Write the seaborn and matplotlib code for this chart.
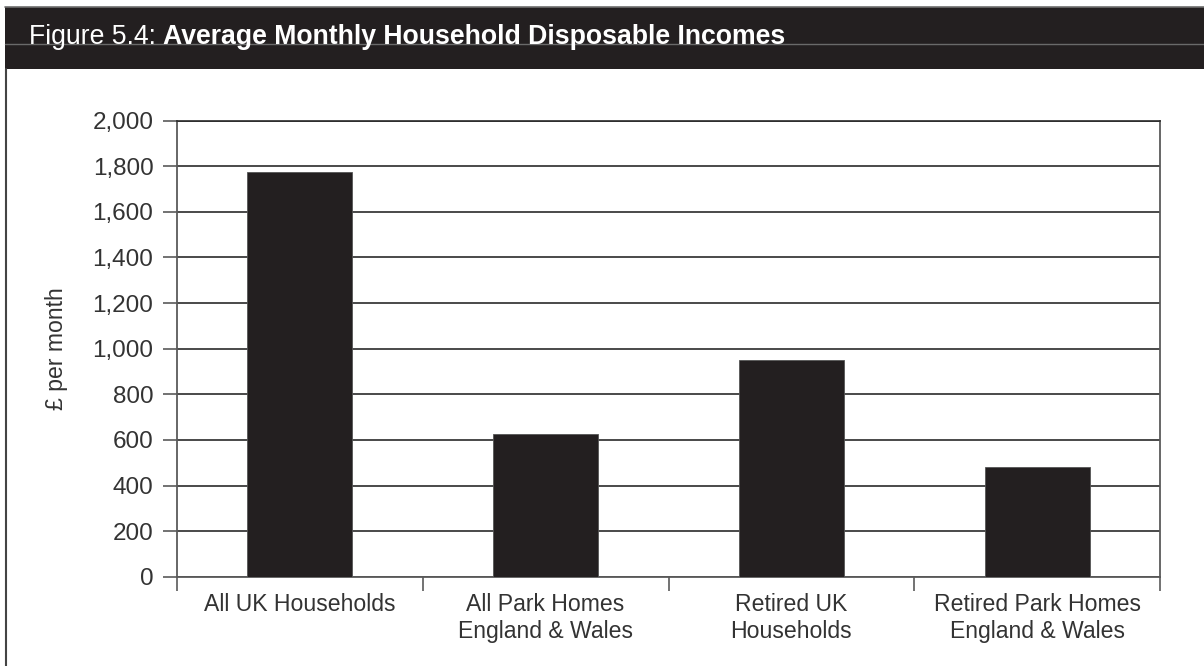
import matplotlib
matplotlib.use("Agg")
import matplotlib.pyplot as plt
from matplotlib.patches import Rectangle
from matplotlib.lines import Line2D
from matplotlib.ticker import FuncFormatter, MultipleLocator, FixedLocator
import seaborn as sns
import pandas as pd

# Chart data
categories = [
    "All UK Households",
    "All Park Homes\nEngland & Wales",
    "Retired UK\nHouseholds",
    "Retired Park Homes\nEngland & Wales",
]
income = [1775, 624, 950, 480]

title_prefix = "Figure 5.4: "
title_main = "Average Monthly Household Disposable Incomes"
y_label = "£ per month"

sns.set_theme(style="white")
plt.rcParams["font.family"] = ["Liberation Sans", "DejaVu Sans"]

TEXT = "#333333"
BAR = "#231f20"
GRID = "#2a2a2a"
SPINE = "#5a5a5a"
FS_X = 16.6
FS_Y = 17.5
FS_TITLE = 19.2

df = pd.DataFrame({"category": categories, "income": income})

fig = plt.figure(figsize=(12.04, 6.66), dpi=100)
fig.patch.set_facecolor("white")
H = 666.0
W = 1204.0

# Header band
band_top, band_bot = 7, 69
fig.patches.append(Rectangle((5 / W, 1 - band_bot / H), 1 - 5 / W, (band_bot - band_top) / H,
                             transform=fig.transFigure, facecolor="#231f20",
                             edgecolor="none", zorder=0))
fig.lines.append(Line2D([5 / W, 1], [1 - band_top / H] * 2, transform=fig.transFigure,
                        color="#6e6e6e", lw=1.2, zorder=1))
fig.lines.append(Line2D([5 / W, 1], [1 - 44 / H] * 2, transform=fig.transFigure,
                        color="#6a6a6a", lw=1.0, zorder=1))
# Left frame edge under the header
fig.lines.append(Line2D([6 / W, 6 / W], [0, 1 - band_bot / H], transform=fig.transFigure,
                        color="#444444", lw=1.5, zorder=1))

t1 = fig.text(29 / W, 1 - 44 / H, title_prefix, color="white", fontsize=FS_TITLE,
              ha="left", va="baseline", zorder=3)
fig.canvas.draw()
bb = t1.get_window_extent(renderer=fig.canvas.get_renderer())
fig.text(bb.x1 / W, 1 - 44 / H, title_main, color="white", fontsize=FS_TITLE,
         fontweight="bold", ha="left", va="baseline", zorder=3)

# Plot area
ax = fig.add_axes([177 / W, 1 - 576.7 / H, (1160 - 177) / W, (576.7 - 120.7) / H])
sns.barplot(data=df, x="category", y="income", color=BAR, width=0.427,
            saturation=1, edgecolor="#555555", linewidth=0.6, ax=ax, zorder=3)

ax.set_xlim(-0.5, 3.5)
ax.set_ylim(0, 2000)
ax.yaxis.set_major_locator(MultipleLocator(200))
ax.yaxis.set_major_formatter(FuncFormatter(lambda v, p: f"{int(v):,}"))
ax.yaxis.grid(True, color=GRID, linewidth=1.2, zorder=0)
ax.set_axisbelow(True)

ax.set_xticks(range(len(categories)))
ax.set_xticklabels(categories, linespacing=1.2)
ax.xaxis.set_minor_locator(FixedLocator([-0.5, 0.5, 1.5, 2.5, 3.5]))
ax.tick_params(axis="x", which="major", length=0, pad=12, labelsize=FS_X, labelcolor=TEXT)
ax.tick_params(axis="x", which="minor", length=10, width=1.2, color=SPINE, direction="out",
               bottom=True)
ax.tick_params(axis="y", which="major", length=10, width=1.2, color=SPINE, direction="out",
               left=True, pad=7, labelsize=FS_Y, labelcolor=TEXT)

ax.set_xlabel("")
ax.set_ylabel(y_label, fontsize=FS_X, color=TEXT)
ax.yaxis.set_label_coords(-(177 - 68) / (1160 - 177), 0.5)

for side in ["left", "bottom", "right"]:
    ax.spines[side].set_visible(True)
    ax.spines[side].set_color(SPINE)
    ax.spines[side].set_linewidth(1.3)
ax.spines["top"].set_visible(True)
ax.spines["top"].set_color(GRID)
ax.spines["top"].set_linewidth(1.2)

fig.savefig("out.png", dpi=100, facecolor="white")
